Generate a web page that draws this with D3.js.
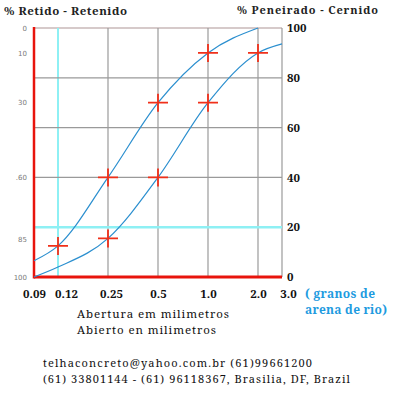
<!DOCTYPE html>
<html>
<head>
<meta charset="utf-8">
<script src="https://cdn.jsdelivr.net/npm/d3@7"></script>
<style>
  body { margin: 0; background: #fff; }
  svg { display: block; }
</style>
</head>
<body>
<div id="drawing"></div>
<script>
// sieve sizes (mm) and their labels
const sizes = [0.09, 0.12, 0.25, 0.5, 1.0, 2.0, 3.0];
const sizeLabels = ["0.09", "0.12", "0.25", "0.5", "1.0", "2.0", "3.0"];
// pixel spots of each sieve on the original sheet (roughly log spaced)
const sizeStops = [34, 58, 108, 158, 208, 258, 282];

// left axis: % retained
const retainedTicks = [0, 10, 30, 60, 85, 100];
const retainedLabels = ["0", "10", "30", ".60", "85", "100"];
// right axis: % passing
const passingTicks = [0, 20, 40, 60, 80, 100];

// grading curves, [size, % passing]
const fineCurve = [[0.09, 6.5], [0.12, 12.5], [0.25, 40], [0.5, 70], [1.0, 90], [2.0, 100]];
const coarseCurve = [[0.09, 0], [0.12, 4], [0.25, 15.5], [0.5, 40], [1.0, 70], [2.0, 90], [3.0, 93.6]];

// marked sieve points, [size, % passing]
const finePoints = [[0.12, 12.5], [0.25, 40], [0.5, 70], [1.0, 90]];
const coarsePoints = [[0.25, 15.5], [0.5, 40], [1.0, 70], [2.0, 90]];

const serif = "'Noto Serif', 'Liberation Serif', serif";

const svg = d3.select("#drawing")
  .append("svg")
  .attr("width", 396)
  .attr("height", 400);

const pLeft = 34, pRight = 282, pTop = 28, pBottom = 277;

const x = d3.scaleLinear().domain(sizes).range(sizeStops);
const yPass = d3.scaleLinear().domain([0, 100]).range([pBottom, pTop]);
const yRet = d3.scaleLinear().domain([0, 100]).range([pTop, pBottom]);

// top border (light)
svg.append("line")
  .attr("x1", pLeft).attr("x2", pRight)
  .attr("y1", pTop).attr("y2", pTop)
  .attr("stroke", "#c9b8b8").attr("stroke-width", 1.5);

// vertical grid
svg.selectAll("line.vgrid")
  .data(sizes.filter((d) => d > 0.09))
  .enter()
  .append("line")
  .attr("class", "vgrid")
  .attr("x1", (d) => x(d)).attr("x2", (d) => x(d))
  .attr("y1", pTop).attr("y2", pBottom)
  .attr("stroke", (d) => (d === 0.12 ? "#8ef0f4" : "#9a9a9a"))
  .attr("stroke-width", (d) => (d === 0.12 ? 2 : 1.2));

// horizontal grid
svg.selectAll("line.hgrid")
  .data([20, 40, 60, 80])
  .enter()
  .append("line")
  .attr("class", "hgrid")
  .attr("x1", pLeft).attr("x2", pRight)
  .attr("y1", (d) => yPass(d)).attr("y2", (d) => yPass(d))
  .attr("stroke", (d) => (d === 20 ? "#8ef0f4" : "#9a9a9a"))
  .attr("stroke-width", (d) => (d === 20 ? 2.5 : 1.2));

// red axes
svg.append("line")
  .attr("x1", pLeft).attr("x2", pLeft)
  .attr("y1", pTop - 1).attr("y2", pBottom + 1.5)
  .attr("stroke", "#e8140c").attr("stroke-width", 2.5);
svg.append("line")
  .attr("x1", pLeft).attr("x2", pRight)
  .attr("y1", pBottom).attr("y2", pBottom)
  .attr("stroke", "#e8140c").attr("stroke-width", 3);

// curves
const line = d3.line()
  .x((d) => x(d[0]))
  .y((d) => yPass(d[1]))
  .curve(d3.curveMonotoneX);

[fineCurve, coarseCurve].forEach((c) => {
  svg.append("path")
    .datum(c)
    .attr("d", line)
    .attr("fill", "none")
    .attr("stroke", "#2b8fcf")
    .attr("stroke-width", 1.2);
});

// red crosses
const crosses = svg.append("g");
crosses.selectAll("path")
  .data(finePoints.concat(coarsePoints))
  .enter()
  .append("path")
  .attr("d", (d) => {
    const cx = x(d[0]), cy = yPass(d[1]);
    return `M${cx - 10},${cy}H${cx + 10}M${cx},${cy - 9}V${cy + 9}`;
  })
  .attr("stroke", "#f0301a")
  .attr("stroke-width", 1.8)
  .attr("fill", "none");

// left axis (% retained)
const leftAxis = svg.append("g")
  .attr("transform", `translate(${pLeft - 4},0)`)
  .call(d3.axisLeft(yRet)
    .tickValues(retainedTicks)
    .tickSize(0)
    .tickPadding(3)
    .tickFormat((d, i) => retainedLabels[i]));
leftAxis.select(".domain").remove();
leftAxis.selectAll("text")
  .attr("fill", "#7a7a7a")
  .style("font-family", "'DejaVu Sans', sans-serif")
  .style("font-size", "7px");

// right axis (% passing)
const rightAxis = svg.append("g")
  .attr("transform", `translate(${pRight + 3},0)`)
  .call(d3.axisRight(yPass)
    .tickValues(passingTicks)
    .tickSize(0)
    .tickPadding(2));
rightAxis.select(".domain").remove();
rightAxis.selectAll("text")
  .attr("fill", "#111")
  .style("font-family", serif)
  .style("font-weight", "bold")
  .style("font-size", "11.5px");

// bottom axis (sieve sizes)
const bottomAxis = svg.append("g")
  .attr("transform", `translate(0,${pBottom})`)
  .call(d3.axisBottom(x)
    .tickValues(sizes)
    .tickSize(0)
    .tickPadding(13)
    .tickFormat((d, i) => sizeLabels[i]));
bottomAxis.select(".domain").remove();
bottomAxis.selectAll("text")
  .attr("fill", "#111")
  .attr("dx", (d) => (d === 0.12 ? 8 : d === 3.0 ? 6 : d === 0.25 ? 3 : 0))
  .style("font-family", serif)
  .style("font-weight", "bold")
  .style("font-size", "11.5px");

// titles
svg.append("text")
  .attr("x", 4).attr("y", 15)
  .attr("textLength", 123).attr("lengthAdjust", "spacing")
  .style("font-family", serif).style("font-weight", "bold").style("font-size", "11.5px")
  .attr("fill", "#222")
  .text("% Retido - Retenido");
svg.append("text")
  .attr("x", 237).attr("y", 14)
  .attr("textLength", 141).attr("lengthAdjust", "spacing")
  .style("font-family", serif).style("font-weight", "bold").style("font-size", "11px")
  .attr("fill", "#222")
  .text("% Peneirado - Cernido");

// blue note
const note = svg.append("g")
  .style("font-family", serif).style("font-weight", "bold").style("font-size", "12px")
  .attr("fill", "#1e9be0");
note.append("text").attr("x", 305).attr("y", 298)
  .attr("textLength", 70).attr("lengthAdjust", "spacing").text("( granos de");
note.append("text").attr("x", 305).attr("y", 314)
  .attr("textLength", 82).attr("lengthAdjust", "spacing").text("arena de rio)");

// axis caption
const cap = svg.append("g")
  .style("font-family", serif).style("font-size", "11.5px")
  .attr("fill", "#111");
cap.append("text").attr("x", 77).attr("y", 318)
  .attr("textLength", 152).attr("lengthAdjust", "spacing").text("Abertura em milimetros");
cap.append("text").attr("x", 77).attr("y", 334)
  .attr("textLength", 139).attr("lengthAdjust", "spacing").text("Abierto en milimetros");

// contact lines
const contact = svg.append("g")
  .style("font-family", serif).style("font-size", "11px")
  .attr("fill", "#111");
contact.append("text").attr("x", 43).attr("y", 367)
  .attr("textLength", 269).attr("lengthAdjust", "spacing")
  .text("telhaconcreto@yahoo.com.br (61)99661200");
contact.append("text").attr("x", 43).attr("y", 383)
  .attr("textLength", 307).attr("lengthAdjust", "spacing")
  .text("(61) 33801144 - (61) 96118367, Brasilia, DF, Brazil");
</script>
</body>
</html>
